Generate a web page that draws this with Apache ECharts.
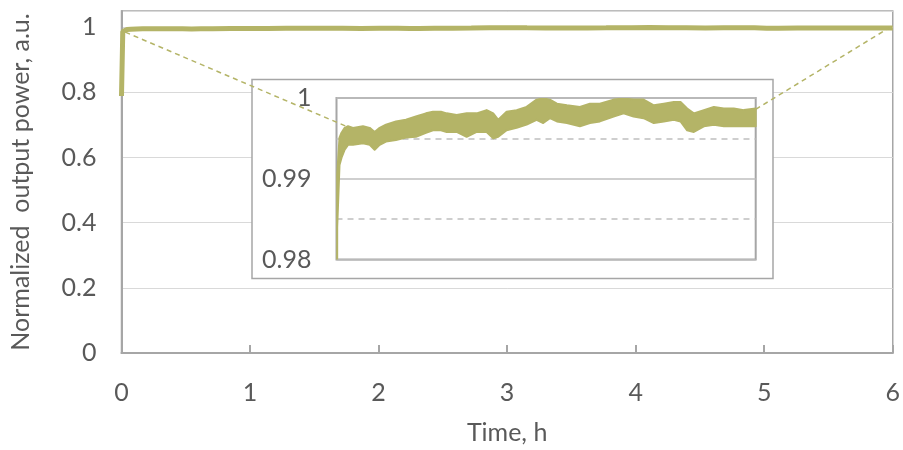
<!DOCTYPE html>
<html>
<head>
<meta charset="utf-8">
<script src="https://cdn.jsdelivr.net/npm/echarts@6/dist/echarts.min.js"></script>
<style>
  html, body { margin: 0; padding: 0; background: #fff; }
  #chart { width: 903px; height: 450px; }
</style>
</head>
<body>
<div id="chart"></div>
<script>
// Measured output power over a 6 h run (normalized).
// The trace is noisy, so it is stored as its upper and lower envelope.
const timeH = [0, 0.01, 0.043, 0.072, 0.117, 0.165, 0.236, 0.379, 0.475, 0.546, 0.618,
  0.708, 0.851, 0.994, 1.137, 1.28, 1.381, 1.495, 1.577, 1.72, 1.863,
  2.006, 2.149, 2.243, 2.315, 2.435, 2.578, 2.721, 2.864, 2.959, 3.054,
  3.155, 3.298, 3.484, 3.627, 3.77, 3.966, 4.109, 4.252, 4.395, 4.542,
  4.685, 4.828, 4.924, 5.019, 5.114, 5.258, 5.401, 5.544, 5.687, 5.83, 6.0];
const powerUpper = [0.789, 0.9905, 0.9951, 0.9957, 0.9963, 0.9965, 0.9963, 0.9965, 0.9963, 0.9958, 0.9963,
  0.9967, 0.9971, 0.9973, 0.9977, 0.9981, 0.9983, 0.9983, 0.9981, 0.9979, 0.9981,
  0.9981, 0.9985, 0.9981, 0.9973, 0.9983, 0.9985, 0.9989, 0.9998, 0.99995, 0.9998,
  0.9993, 0.9991, 0.9989, 0.9993, 0.9993, 0.9998, 0.99995, 0.9998, 0.9998, 0.9991,
  0.9993, 0.9995, 0.9995, 0.9987, 0.9981, 0.9985, 0.9989, 0.9987, 0.9987, 0.9985, 0.9987];
const powerLower = [0.789, 0.984, 0.9917, 0.9926, 0.9936, 0.9942, 0.9942, 0.9944, 0.9942, 0.9936, 0.9942,
  0.9946, 0.9948, 0.9951, 0.9952, 0.9957, 0.996, 0.996, 0.9958, 0.9958, 0.9952,
  0.9958, 0.9958, 0.995, 0.9952, 0.996, 0.9963, 0.9967, 0.9973, 0.9969, 0.9975,
  0.9971, 0.9969, 0.9965, 0.9969, 0.9971, 0.9977, 0.9981, 0.9977, 0.9975, 0.9969,
  0.9971, 0.9973, 0.9971, 0.996, 0.9958, 0.9965, 0.9967, 0.9965, 0.9965, 0.9965, 0.9965];

// Points of the zoom connectors: [time, power] on the main plot and on the inset
const connectLeftMain = [0.03, 0.985];
const connectLeftInset = [0.165, 0.9964];
const connectRightMain = [5.97, 0.998];
const connectRightInset = [6, 0.9986];

const xTicks = [0, 1, 2, 3, 4, 5, 6];

const OLIVE = '#b4b467';
const TEXT = '#595959';
const AXIS = '#a6a6a6';
const FONT = 'Lato';
const FS = 25;

const mainLine = timeH.map((t, i) => [t, (powerUpper[i] + powerLower[i]) / 2]);
const bandRows = timeH.map((t, i) => [t, powerLower[i], powerUpper[i]]);

const chart = echarts.init(document.getElementById('chart'), null, { renderer: 'canvas' });

// Noise band of the inset: one polygon, upper envelope forward then lower envelope back
function renderBand(params, api) {
  if (params.dataIndex !== 0) return null;
  const top = bandRows.map(r => api.coord([r[0], r[2]]));
  const bottom = bandRows.map(r => api.coord([r[0], r[1]])).reverse();
  return {
    type: 'polygon',
    shape: { points: top.concat(bottom) },
    style: { fill: OLIVE, stroke: OLIVE, lineWidth: 2, lineJoin: 'round' }
  };
}

chart.setOption({
  animation: false,
  backgroundColor: '#fff',
  textStyle: { fontFamily: FONT },
  grid: [
    { left: 121.5, right: 6.5, top: 11, bottom: 90, show: true, borderColor: AXIS, borderWidth: 1.5, backgroundColor: 'transparent' },
    { left: 336.5, right: 147.3, top: 98, bottom: 190.5, show: true, borderColor: AXIS, borderWidth: 2, backgroundColor: '#fff', zlevel: 1, z: 1 }
  ],
  xAxis: [
    {
      type: 'value', gridIndex: 0, min: xTicks[0], max: xTicks[xTicks.length - 1], interval: 1,
      name: 'Time, h', nameLocation: 'middle', nameGap: 67,
      nameTextStyle: { color: TEXT, fontSize: FS, fontFamily: FONT },
      axisLine: { lineStyle: { color: AXIS, width: 2 } },
      axisTick: { show: true, inside: true, length: 8, lineStyle: { color: AXIS, width: 2 } },
      axisLabel: { color: TEXT, fontSize: FS, margin: 27, fontFamily: FONT },
      splitLine: { show: false }
    },
    {
      type: 'value', gridIndex: 1, min: 0, max: 6, interval: 1,
      zlevel: 1, z: 2,
      axisLine: { show: false },
      axisTick: { show: false },
      axisLabel: { show: false },
      splitLine: { show: false }
    }
  ],
  yAxis: [
    {
      type: 'value', gridIndex: 0, min: 0, max: 1.05, interval: 0.2,
      name: 'Normalized  output power, a.u.', nameLocation: 'middle', nameGap: 88,
      nameTextStyle: { color: TEXT, fontSize: FS, fontFamily: FONT },
      axisLine: { show: true, lineStyle: { color: AXIS, width: 2 } },
      axisTick: { show: false },
      axisLabel: { color: TEXT, fontSize: FS, margin: 25, fontFamily: FONT, showMaxLabel: false,
        formatter: v => (Math.round(v * 10) / 10).toString() },
      splitLine: { show: true, lineStyle: { color: '#d9d9d9', width: 1 } }
    },
    {
      type: 'value', gridIndex: 1, min: 0.98, max: 1.0, interval: 0.01,
      zlevel: 1, z: 2,
      axisLine: { show: false },
      axisTick: { show: false },
      axisLabel: { color: TEXT, fontSize: FS, margin: 25, fontFamily: FONT,
        formatter: v => (v >= 0.9999 ? '1' : v.toFixed(2)) },
      splitLine: { show: true, lineStyle: { color: '#bfbfbf', width: 1.5 } },
      minorTick: { show: false, splitNumber: 2 },
      minorSplitLine: { show: true, lineStyle: { color: '#bfbfbf', width: 1.5, type: [6, 5] } }
    }
  ],
  graphic: {
    elements: [
      {
        type: 'rect', id: 'insetFrame', zlevel: 1, z: 0,
        shape: { x: 252, y: 79.5, width: 521, height: 199 },
        style: { fill: '#fff', stroke: AXIS, lineWidth: 1.5 }
      }
    ]
  },
  series: [
    {
      type: 'line', xAxisIndex: 0, yAxisIndex: 0, data: mainLine,
      showSymbol: false, lineStyle: { color: OLIVE, width: 5 }, z: 3
    },
    {
      type: 'custom', xAxisIndex: 1, yAxisIndex: 1, data: bandRows,
      renderItem: renderBand, clip: true, zlevel: 1, z: 3,
      encode: { x: 0, y: [1, 2] }
    }
  ]
});

// Dashed connectors between the main trace and the inset
const p1 = chart.convertToPixel({ gridIndex: 0 }, connectLeftMain);
const p2 = chart.convertToPixel({ gridIndex: 1 }, connectLeftInset);
const p3 = chart.convertToPixel({ gridIndex: 0 }, connectRightMain);
const p4 = chart.convertToPixel({ gridIndex: 1 }, connectRightInset);
const dashStyle = { stroke: OLIVE, lineWidth: 1.5, lineDash: [5, 4] };
chart.setOption({
  graphic: {
    elements: [
      { type: 'line', id: 'connLeft', zlevel: 1, z: 50,
        shape: { x1: p1[0], y1: p1[1], x2: p2[0], y2: p2[1] }, style: dashStyle },
      { type: 'line', id: 'connRight', zlevel: 1, z: 50,
        shape: { x1: p4[0], y1: p4[1], x2: p3[0], y2: p3[1] }, style: dashStyle }
    ]
  }
});
</script>
</body>
</html>
